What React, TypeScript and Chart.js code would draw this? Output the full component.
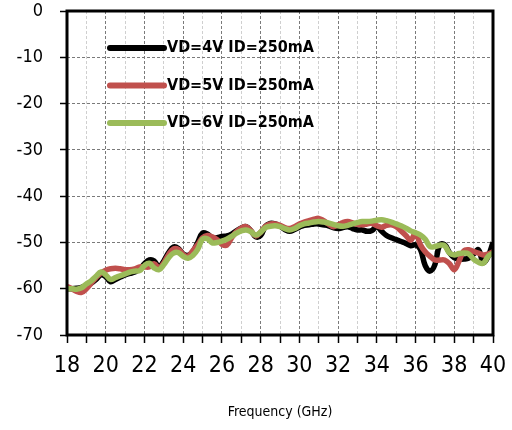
import React, { useEffect, useRef } from 'react';
import { Chart, registerables } from 'chart.js';

Chart.register(...registerables);

const freqGHz = [
  18, 18.25, 18.5, 18.75, 19, 19.25, 19.5, 19.75, 20, 20.25, 20.5, 20.75,
  21, 21.25, 21.5, 21.75, 22, 22.25, 22.5, 22.75, 23, 23.25, 23.5, 23.75,
  24, 24.25, 24.5, 24.75, 25, 25.25, 25.5, 25.75, 26, 26.25, 26.5, 26.75,
  27, 27.25, 27.5, 27.75, 28, 28.25, 28.5, 28.75, 29, 29.25, 29.5, 29.75,
  30, 30.25, 30.5, 30.75, 31, 31.25, 31.5, 31.75, 32, 32.25, 32.5, 32.75,
  33, 33.25, 33.5, 33.75, 34, 34.25, 34.5, 34.75, 35, 35.25, 35.5, 35.75,
  36, 36.25, 36.5, 36.75, 37, 37.25, 37.5, 37.75, 38, 38.25, 38.5, 38.75,
  39, 39.25, 39.5, 39.75, 40,
];

const vd4 = [
  -60.0, -60.0, -59.9, -59.7, -59.3, -58.8, -58.0, -57.0, -57.4, -58.5, -58.0, -57.5,
  -57.0, -56.7, -56.4, -55.8, -54.6, -53.8, -54.0, -55.3, -54.0, -52.2, -51.0, -51.3,
  -52.5, -52.8, -52.0, -50.0, -48.0, -48.2, -49.0, -49.0, -48.7, -48.6, -48.2, -47.5,
  -46.9, -46.6, -47.5, -48.8, -48.5, -46.5, -45.9, -46.0, -46.5, -47.2, -47.6, -47.2,
  -46.7, -46.3, -46.2, -46.0, -46.0, -46.2, -46.4, -46.8, -47.0, -46.8, -46.6, -47.0,
  -47.3, -47.3, -47.6, -47.4, -46.6, -47.6, -48.5, -49.0, -49.4, -49.8, -50.2, -50.7,
  -50.5, -51.5, -55.0, -56.2, -54.8, -50.5, -50.5, -52.2, -53.3, -53.6, -53.6, -53.4,
  -52.5, -51.6, -54.3, -53.0, -50.0,
];

const vd5 = [
  -59.5, -60.0, -60.6, -60.8, -60.0, -58.8, -57.6, -56.6, -56.0, -55.7, -55.6, -55.7,
  -55.9, -55.9, -55.7, -55.3, -55.3, -55.3, -54.6, -55.5, -54.4, -52.6, -51.4, -51.5,
  -52.6, -53.0, -51.8, -50.5, -49.0, -48.5, -48.8, -49.4, -50.4, -50.6, -49.0, -47.7,
  -46.9, -46.6, -47.5, -48.6, -47.8, -46.5, -46.0, -46.0, -46.3, -46.8, -47.0, -46.6,
  -46.0, -45.6, -45.3, -45.0, -44.8, -45.3, -46.0, -46.6, -46.2, -45.7, -45.5, -45.8,
  -46.1, -46.2, -46.0, -45.9, -46.4, -46.7, -46.3, -46.2, -46.6, -47.5, -48.5, -49.5,
  -48.0, -50.5, -52.0, -53.0, -53.8, -53.8, -53.8, -54.6, -55.9, -54.0, -51.8, -51.6,
  -52.0, -52.3, -52.7, -52.5, -52.0,
];

const vd6 = [
  -60.0, -60.0, -60.1, -59.8, -59.0, -58.3, -57.3, -56.4, -57.0, -58.0, -57.6, -57.2,
  -56.8, -56.4, -56.2, -56.1, -55.0, -54.5, -55.5, -55.9, -54.8, -53.3, -52.3, -52.2,
  -53.0, -53.4, -52.8, -51.5, -49.3, -49.2, -50.1, -50.0, -49.7, -49.3, -48.7, -48.0,
  -47.5, -47.3, -47.7, -48.4, -47.8, -46.8, -46.5, -46.4, -46.6, -47.0, -47.3, -47.0,
  -46.4, -46.0, -45.8, -45.6, -45.5, -45.6, -45.8, -46.1, -46.4, -46.5, -46.3, -46.0,
  -45.7, -45.5, -45.5, -45.4, -45.2, -45.1, -45.3, -45.6, -46.0, -46.4, -46.9, -47.5,
  -47.9, -48.4, -49.3, -50.9, -50.9, -50.6, -50.7, -52.3, -52.7, -52.4, -52.3, -52.5,
  -53.6, -54.3, -54.5, -53.0, -52.3,
];

const seriesLabels = ['VD=4V ID=250mA', 'VD=5V ID=250mA', 'VD=6V ID=250mA'];
const seriesValues = [vd4, vd5, vd6];
const seriesColors = ['#000000', '#c0504d', '#9bbb59'];

const xMin = 18;
const xMax = 40;
const yMin = -70;
const yMax = 0;
const xTitle = 'Frequency (GHz)';

const FONT = "'DejaVu Sans Condensed', 'Liberation Sans', sans-serif";

const framePlugin = {
  id: 'frameAndLegend',
  afterDatasetsDraw(chart: any) {
    const { ctx, chartArea } = chart;
    const { left, top, right, bottom } = chartArea;
    ctx.save();
    ctx.strokeStyle = '#000';
    ctx.lineWidth = 3;
    ctx.strokeRect(left, top, right - left, bottom - top);
    ctx.font = `bold 16px ${FONT}`;
    ctx.textBaseline = 'middle';
    ctx.textAlign = 'left';
    seriesLabels.forEach((label, i) => {
      const y = top + 37 + i * 37.5;
      ctx.beginPath();
      ctx.strokeStyle = seriesColors[i];
      ctx.lineWidth = 6;
      ctx.lineCap = 'round';
      ctx.moveTo(left + 43, y);
      ctx.lineTo(left + 97, y);
      ctx.stroke();
      ctx.fillStyle = '#000';
      ctx.fillText(label, left + 100, y);
    });
    ctx.restore();
  },
};

export default function App() {
  const ref = useRef<HTMLCanvasElement | null>(null);

  useEffect(() => {
    if (!ref.current) return;
    const datasets = seriesValues.map((vals, i) => ({
      label: seriesLabels[i],
      data: freqGHz.map((f, j) => ({ x: f, y: vals[j] })),
      borderColor: seriesColors[i],
      backgroundColor: seriesColors[i],
      borderWidth: 5.5,
      pointRadius: 0,
      tension: 0.4,
      fill: false,
      order: 2 - i,
    }));
    const chart = new Chart(ref.current, {
      type: 'line',
      data: { datasets },
      options: {
        animation: false,
        responsive: true,
        maintainAspectRatio: false,
        layout: { padding: { top: 11, right: 19, left: 0, bottom: 0 } },
        plugins: { legend: { display: false }, tooltip: { enabled: false } },
        scales: {
          x: {
            type: 'linear',
            min: xMin,
            max: xMax,
            afterFit: (scale: any) => {
              scale.height = 95;
              scale.paddingLeft = 0;
              scale.paddingRight = 0;
            },
            ticks: {
              stepSize: 1,
              autoSkip: false,
              maxRotation: 0,
              minRotation: 0,
              padding: 9,
              color: '#000',
              font: { family: FONT, size: 23 },
              callback: (v: any) => (Number(v) % 2 === 0 ? String(v) : ''),
            },
            grid: {
              color: (c: any) => (c.tick && c.tick.value % 2 === 0 ? '#7a7a7a' : '#cfcfcf'),
              lineWidth: 1,
              tickColor: '#000',
              tickLength: 8,
              tickWidth: 1.5,
            },
            border: { display: false, dash: [3, 2] },
            title: {
              display: true,
              text: xTitle,
              color: '#000',
              font: { family: FONT, size: 14 },
              padding: { top: 0, bottom: 9 },
            },
          },
          y: {
            type: 'linear',
            min: yMin,
            max: yMax,
            afterFit: (scale: any) => {
              scale.width = 67;
              scale.paddingTop = 0;
              scale.paddingBottom = 0;
            },
            ticks: {
              stepSize: 5,
              padding: 17,
              color: '#000',
              font: { family: FONT, size: 18 },
              callback: (v: any) => (Number(v) % 10 === 0 ? String(v) : ''),
            },
            grid: {
              color: '#7a7a7a',
              lineWidth: 1,
              tickColor: (c: any) => (c.tick && c.tick.value % 10 === 0 ? '#000' : 'rgba(0,0,0,0)'),
              tickLength: 7,
              tickWidth: 1.5,
            },
            border: { display: false, dash: [3, 2] },
          },
        },
      },
      plugins: [framePlugin],
    });
    return () => chart.destroy();
  }, []);

  return (
    <div style={{ position: 'absolute', left: 0, top: 0, width: 512, height: 430, background: '#fff' }}>
      <canvas ref={ref} />
    </div>
  );
}
